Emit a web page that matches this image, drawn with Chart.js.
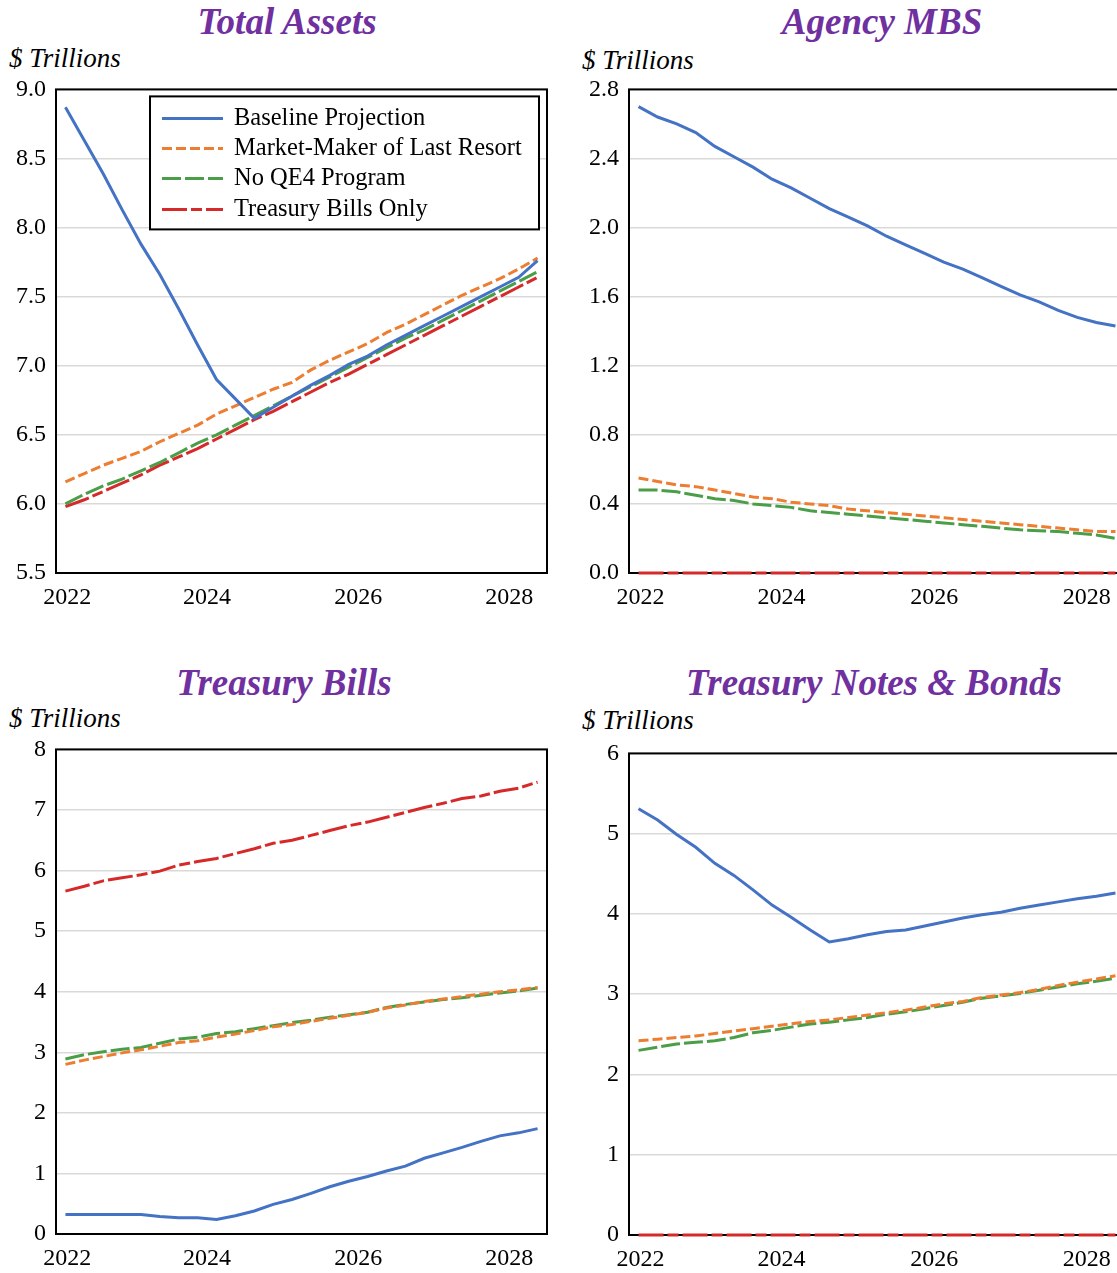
<!DOCTYPE html>
<html>
<head>
<meta charset="utf-8">
<script src="https://cdn.jsdelivr.net/npm/chart.js@4.4.1/dist/chart.umd.min.js"></script>
<style>
  body { margin: 0; width: 1117px; height: 1273px; overflow: hidden; background: #fff; position: relative; }
  .title { position: absolute; width: 574px; text-align: center; font: italic bold 37px 'Liberation Serif', serif; color: #7030a0; line-height: 42px; }
  .unit { position: absolute; font: italic 27px 'Liberation Serif', serif; color: #000; line-height: 30px; }
  .panel { position: absolute; }
</style>
</head>
<body>
<div class="title" style="left:0;top:1px;">Total Assets</div>
<div class="title" style="left:595px;top:1px;">Agency MBS</div>
<div class="title" style="left:-3px;top:662px;">Treasury Bills</div>
<div class="title" style="left:587px;top:662px;">Treasury Notes &amp; Bonds</div>
<div class="unit" style="left:9px;top:43px;">$ Trillions</div>
<div class="unit" style="left:582px;top:45px;">$ Trillions</div>
<div class="unit" style="left:9px;top:703px;">$ Trillions</div>
<div class="unit" style="left:582px;top:705px;">$ Trillions</div>

<div class="panel" style="left:0;top:65px;"><canvas id="totalChart" width="574" height="551"></canvas></div>
<div class="panel" style="left:573px;top:65px;"><canvas id="mbsChart" width="574" height="551"></canvas></div>
<div class="panel" style="left:0;top:725px;"><canvas id="billsChart" width="574" height="552"></canvas></div>
<div class="panel" style="left:573px;top:729px;"><canvas id="notesChart" width="574" height="549"></canvas></div>

<script>
// quarterly observations, plotted mid-quarter
const quarters = ['2022Q1','2022Q2','2022Q3','2022Q4','2023Q1','2023Q2','2023Q3','2023Q4',
  '2024Q1','2024Q2','2024Q3','2024Q4','2025Q1','2025Q2','2025Q3','2025Q4',
  '2026Q1','2026Q2','2026Q3','2026Q4','2027Q1','2027Q2','2027Q3','2027Q4',
  '2028Q1','2028Q2'];
const xTickYears = [2022, 2024, 2026, 2028];
const seriesNames = ['Baseline Projection', 'Market-Maker of Last Resort', 'No QE4 Program', 'Treasury Bills Only'];

// Total Assets ($ trillions)
const totalBaseline    = [8.87,8.63,8.39,8.13,7.88,7.66,7.41,7.15,6.90,6.76,6.62,6.70,6.78,6.86,6.93,7.01,7.07,7.15,7.22,7.29,7.36,7.43,7.50,7.57,7.64,7.76];
const totalMarketMaker = [6.16,6.22,6.28,6.33,6.38,6.45,6.51,6.57,6.65,6.71,6.77,6.83,6.88,6.97,7.04,7.10,7.16,7.24,7.30,7.37,7.44,7.51,7.57,7.63,7.70,7.78];
const totalNoQE4       = [6.00,6.07,6.13,6.18,6.24,6.30,6.37,6.44,6.50,6.57,6.64,6.71,6.78,6.85,6.92,6.99,7.06,7.13,7.20,7.26,7.33,7.40,7.47,7.54,7.61,7.68];
const totalBillsOnly   = [5.98,6.03,6.09,6.15,6.21,6.28,6.34,6.40,6.47,6.54,6.61,6.67,6.74,6.81,6.88,6.94,7.01,7.08,7.15,7.22,7.29,7.36,7.43,7.50,7.57,7.64];

// Agency MBS
const mbsBaseline    = [2.70,2.64,2.60,2.55,2.47,2.41,2.35,2.28,2.23,2.17,2.11,2.06,2.01,1.95,1.90,1.85,1.80,1.76,1.71,1.66,1.61,1.57,1.52,1.48,1.45,1.43];
const mbsMarketMaker = [0.55,0.53,0.51,0.50,0.48,0.46,0.44,0.43,0.41,0.40,0.39,0.37,0.36,0.35,0.34,0.33,0.32,0.31,0.30,0.29,0.28,0.27,0.26,0.25,0.24,0.24];
const mbsNoQE4       = [0.48,0.48,0.47,0.45,0.43,0.42,0.40,0.39,0.38,0.36,0.35,0.34,0.33,0.32,0.31,0.30,0.29,0.28,0.27,0.26,0.25,0.245,0.24,0.23,0.22,0.20];
const mbsBillsOnly   = [0,0,0,0,0,0,0,0,0,0,0,0,0,0,0,0,0,0,0,0,0,0,0,0,0,0];

// Treasury Bills
const billsBaseline    = [0.32,0.32,0.32,0.32,0.32,0.29,0.27,0.27,0.24,0.30,0.38,0.49,0.57,0.67,0.78,0.87,0.95,1.04,1.12,1.25,1.34,1.43,1.53,1.62,1.67,1.74];
const billsMarketMaker = [2.80,2.87,2.93,2.99,3.04,3.10,3.16,3.19,3.25,3.30,3.36,3.42,3.46,3.51,3.56,3.61,3.66,3.73,3.78,3.84,3.88,3.92,3.96,4.00,4.03,4.07];
const billsNoQE4       = [2.89,2.96,3.01,3.05,3.08,3.15,3.22,3.25,3.31,3.34,3.39,3.44,3.49,3.53,3.58,3.62,3.66,3.74,3.79,3.83,3.87,3.90,3.94,3.98,4.01,4.06];
const billsBillsOnly   = [5.66,5.74,5.83,5.88,5.93,5.99,6.09,6.15,6.20,6.28,6.36,6.45,6.50,6.58,6.66,6.74,6.80,6.88,6.96,7.04,7.11,7.19,7.23,7.31,7.36,7.46];

// Treasury Notes & Bonds
const notesBaseline    = [5.31,5.17,4.99,4.83,4.63,4.48,4.30,4.11,3.96,3.80,3.65,3.69,3.74,3.78,3.80,3.85,3.90,3.95,3.99,4.02,4.07,4.11,4.15,4.19,4.22,4.26];
const notesMarketMaker = [2.42,2.44,2.46,2.48,2.51,2.54,2.57,2.60,2.63,2.66,2.68,2.71,2.74,2.77,2.80,2.84,2.88,2.91,2.96,2.99,3.02,3.06,3.11,3.15,3.19,3.23];
const notesNoQE4       = [2.30,2.34,2.38,2.40,2.42,2.46,2.52,2.55,2.59,2.63,2.65,2.68,2.71,2.75,2.78,2.82,2.86,2.90,2.95,2.98,3.01,3.05,3.09,3.13,3.16,3.20];
const notesBillsOnly   = [0,0,0,0,0,0,0,0,0,0,0,0,0,0,0,0,0,0,0,0,0,0,0,0,0,0];

Chart.defaults.font.family = "'Liberation Serif', 'Times New Roman', serif";
Chart.defaults.color = '#000';

const styles = [
  { color: '#4472c4', dash: [] },
  { color: '#ed7d31', dash: [10, 4] },
  { color: '#4a9e47', dash: [19, 4] },
  { color: '#d62a2a', dash: [25, 4, 11, 4] },
];

const xVals = quarters.map(q => +q.slice(0, 4) + (+q.slice(5) - 1) / 4 + 0.125);

function makeDatasets(seriesList) {
  return seriesList.map((vals, i) => ({
    label: seriesNames[i],
    data: vals.map((v, j) => ({ x: xVals[j], y: v })),
    borderColor: styles[i].color,
    borderDash: styles[i].dash,
    borderWidth: 3,
    pointRadius: 0,
    tension: 0,
    fill: false,
    clip: 4,
  }));
}

// black frame around plot area, under the lines
const frame = {
  id: 'frame',
  beforeDatasetsDraw(chart) {
    const { ctx, chartArea: a } = chart;
    ctx.save();
    ctx.strokeStyle = '#000';
    ctx.lineWidth = 2;
    ctx.strokeRect(a.left, a.top, a.right - a.left, a.bottom - a.top);
    ctx.restore();
  }
};

// boxed legend inside the Total Assets plot
const boxLegend = {
  id: 'boxLegend',
  afterDraw(chart) {
    const { ctx, chartArea: a } = chart;
    const w = 389, h = 133;
    const left = a.right - 8 - w, top = a.top + 7;
    ctx.save();
    ctx.fillStyle = '#fff';
    ctx.fillRect(left, top, w, h);
    ctx.strokeStyle = '#000';
    ctx.lineWidth = 2;
    ctx.strokeRect(left, top, w, h);
    const rows = [22, 52, 82, 113];
    chart.data.datasets.forEach((ds, i) => {
      const y = top + rows[i];
      ctx.beginPath();
      ctx.setLineDash(ds.borderDash);
      ctx.strokeStyle = ds.borderColor;
      ctx.lineWidth = 3;
      ctx.moveTo(left + 12, y);
      ctx.lineTo(left + 73, y);
      ctx.stroke();
      ctx.setLineDash([]);
      ctx.fillStyle = '#000';
      ctx.font = "24.5px 'Liberation Serif', serif";
      ctx.textBaseline = 'middle';
      ctx.fillText(ds.label, left + 84, y);
    });
    ctx.restore();
  }
};

function makeChart(id, seriesList, yMin, yMax, yStep, decimals, padRight, extra) {
  return new Chart(document.getElementById(id), {
    type: 'line',
    data: { datasets: makeDatasets(seriesList) },
    options: {
      responsive: false,
      animation: false,
      layout: { padding: { top: 19, right: padRight, left: 0, bottom: 0 } },
      plugins: { legend: { display: false }, tooltip: { enabled: false } },
      scales: {
        x: {
          type: 'linear',
          min: 2022,
          max: 2028.5,
          grid: { display: false, drawTicks: false },
          border: { display: false },
          afterBuildTicks(scale) {
            scale.ticks = xTickYears.map(y => ({ value: y === 2022 ? 2022.15 : y }));
          },
          afterFit(scale) { scale.height = 43; },
          ticks: {
            autoSkip: false,
            maxRotation: 0,
            padding: 10,
            font: { size: 24 },
            callback: v => String(Math.floor(v)),
          },
        },
        y: {
          min: yMin,
          max: yMax,
          grid: { color: '#d9d9d9', lineWidth: 1.5, drawTicks: false },
          border: { display: false },
          afterFit(scale) { scale.width = 56; },
          ticks: {
            stepSize: yStep,
            padding: 10,
            font: { size: 24 },
            callback: v => v.toFixed(decimals),
          },
        },
      },
    },
    plugins: [frame].concat(extra || []),
  });
}

makeChart('totalChart', [totalBaseline, totalMarketMaker, totalNoQE4, totalBillsOnly], 5.5, 9.0, 0.5, 1, 27, [boxLegend]);
makeChart('mbsChart', [mbsBaseline, mbsMarketMaker, mbsNoQE4, mbsBillsOnly], 0, 2.8, 0.4, 1, 22);
makeChart('billsChart', [billsBaseline, billsMarketMaker, billsNoQE4, billsBillsOnly], 0, 8, 1, 0, 27);
makeChart('notesChart', [notesBaseline, notesMarketMaker, notesNoQE4, notesBillsOnly], 0, 6, 1, 0, 22);
</script>
</body>
</html>
